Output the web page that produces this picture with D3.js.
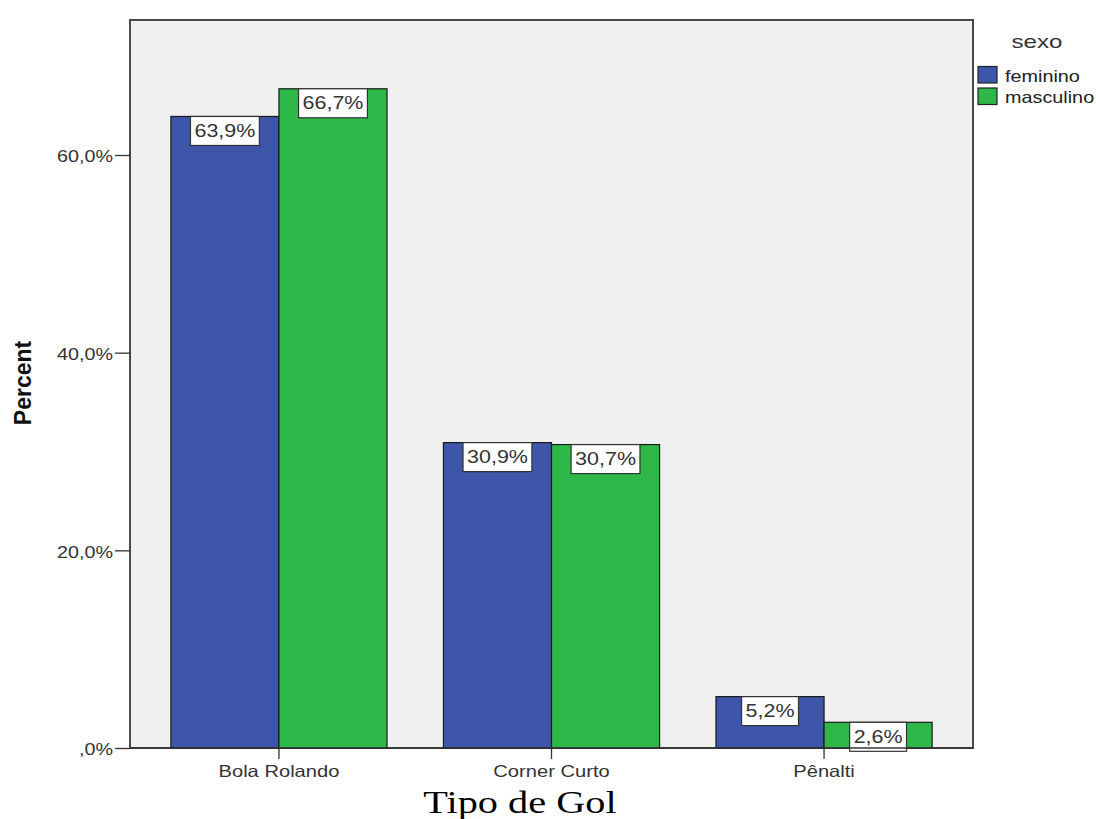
<!DOCTYPE html>
<html>
<head>
<meta charset="utf-8">
<script src="https://cdn.jsdelivr.net/npm/d3@7"></script>
<style>
  html, body { margin: 0; padding: 0; background: #fff; }
  svg { display: block; }
  text { font-family: Arial, "Liberation Sans", sans-serif; }
</style>
</head>
<body>
<svg id="chart" width="1096" height="819"></svg>
<script>
// Goal types and share of goals (%) by sex
const categories = ["Bola Rolando", "Corner Curto", "Pênalti"];
const seriesNames = ["feminino", "masculino"];
const feminino = [63.9, 30.9, 5.2];
const masculino = [66.7, 30.7, 2.6];
const yTicks = [0, 20, 40, 60];
const yTickLabels = [",0%", "20,0%", "40,0%", "60,0%"];

const colors = { feminino: "#3d56aa", masculino: "#2eb84a" };
const values = { feminino, masculino };

const svg = d3.select("#chart");
const plot = { left: 130, top: 20, right: 973, bottom: 748 };
const SX = 1.16; // horizontal text stretch

// stretch a text selection horizontally around its anchor
function stretch(sel, k) {
  sel.each(function () {
    const w = this.getComputedTextLength();
    d3.select(this).attr("textLength", w * k).attr("lengthAdjust", "spacingAndGlyphs");
  });
  return sel;
}

const x = d3.scaleBand()
  .domain(categories)
  .range([plot.left, plot.right])
  .paddingInner(0.207)
  .paddingOuter(0.15);

const xs = d3.scaleBand()
  .domain(seriesNames)
  .range([0, x.bandwidth()]);

const y = d3.scaleLinear()
  .domain([0, 73.66])
  .range([plot.bottom, plot.top]);

// plot background
svg.append("rect")
  .attr("x", plot.left).attr("y", plot.top)
  .attr("width", plot.right - plot.left).attr("height", plot.bottom - plot.top)
  .attr("fill", "#f0f0f0")
  .attr("stroke", "#4a4a4a").attr("stroke-width", 2);

// bars
const groups = svg.append("g").selectAll("g")
  .data(categories)
  .join("g")
  .attr("transform", d => `translate(${x(d)},0)`);

const barData = (c, i) => seriesNames.map(s => ({ cat: c, series: s, value: values[s][i] }));

groups.selectAll("rect.bar")
  .data((c, i) => barData(c, i))
  .join("rect")
  .attr("class", "bar")
  .attr("x", d => xs(d.series))
  .attr("y", d => y(d.value))
  .attr("width", xs.bandwidth())
  .attr("height", d => y(0) - y(d.value))
  .attr("fill", d => colors[d.series])
  .attr("stroke", "#1a1a1a").attr("stroke-width", 1.2);

// value labels in boxes
const labelFmt = v => d3.format(".1f")(v).replace(".", ",") + "%";
const labels = groups.selectAll("g.lab")
  .data((c, i) => barData(c, i))
  .join("g")
  .attr("class", "lab")
  .attr("transform", d => `translate(${xs(d.series) + xs.bandwidth() / 2},${y(d.value)})`);

labels.each(function (d) {
  const g = d3.select(this);
  const rect = g.append("rect");
  const t = g.append("text")
    .attr("x", 0).attr("y", 20.5)
    .attr("text-anchor", "middle")
    .attr("font-size", 18.5)
    .attr("fill", "#333")
    .text(labelFmt(d.value));
  stretch(t, SX);
  const w = +t.attr("textLength") + 8;
  rect.attr("x", -w / 2).attr("y", 0).attr("width", w).attr("height", 29)
    .attr("fill", "#fff").attr("stroke", "#333").attr("stroke-width", 1.2);
});

// y axis
const yAxis = svg.append("g")
  .attr("transform", `translate(${plot.left},0)`)
  .call(d3.axisLeft(y).tickValues(yTicks).tickSize(15).tickPadding(2)
    .tickFormat((d, i) => yTickLabels[i]));
yAxis.select(".domain").remove();
yAxis.selectAll(".tick line").attr("stroke", "#333").attr("stroke-width", 1.3);
yAxis.selectAll(".tick text")
  .attr("font-size", 17).attr("fill", "#333")
  .attr("dy", "0.4em")
  .call(stretch, SX);

// x axis
const xAxis = svg.append("g")
  .attr("transform", `translate(0,${plot.bottom})`)
  .call(d3.axisBottom(x).tickSize(11).tickPadding(5));
xAxis.select(".domain").remove();
svg.append("line")
  .attr("x1", plot.left).attr("x2", plot.right)
  .attr("y1", plot.bottom).attr("y2", plot.bottom)
  .attr("stroke", "#333").attr("stroke-width", 1.5);
xAxis.selectAll(".tick line").attr("stroke", "#333").attr("stroke-width", 1.3);
xAxis.selectAll(".tick text")
  .attr("font-size", 16.5).attr("fill", "#333")
  .attr("y", 29).attr("dy", 0)
  .call(stretch, 1.22);

// axis titles
svg.append("text")
  .attr("transform", "translate(31,383) rotate(-90)")
  .attr("text-anchor", "middle")
  .attr("font-size", 23).attr("font-weight", "bold")
  .attr("fill", "#111")
  .text("Percent");

svg.append("text")
  .attr("x", 520).attr("y", 813)
  .attr("text-anchor", "middle")
  .style("font-family", "'Liberation Serif', 'Times New Roman', serif")
  .attr("font-size", 32).attr("fill", "#000")
  .text("Tipo de Gol")
  .call(stretch, 1.26);

// legend
svg.append("text")
  .attr("x", 1037).attr("y", 48)
  .attr("text-anchor", "middle")
  .attr("font-size", 19).attr("fill", "#333")
  .text("sexo")
  .call(stretch, 1.27);

const legend = svg.append("g").selectAll("g")
  .data(seriesNames)
  .join("g")
  .attr("transform", (d, i) => `translate(978,${66.5 + i * 21.5})`);
legend.append("rect")
  .attr("width", 19).attr("height", 16.5)
  .attr("fill", d => colors[d])
  .attr("stroke", "#222").attr("stroke-width", 1.2);
legend.append("text")
  .attr("x", 27).attr("y", 15)
  .attr("font-size", 16.5).attr("fill", "#222")
  .text(d => d)
  .call(stretch, 1.2);
</script>
</body>
</html>
